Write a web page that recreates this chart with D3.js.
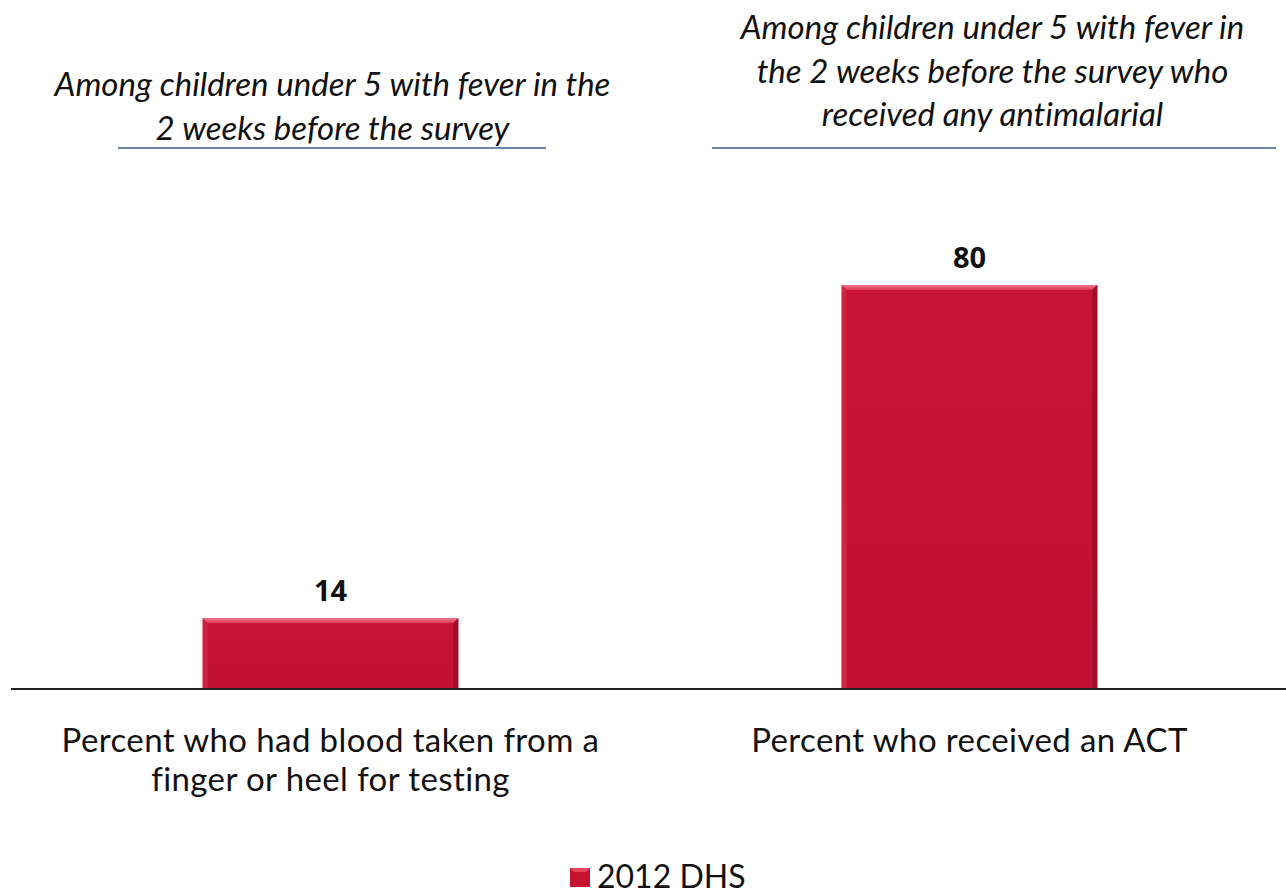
<!DOCTYPE html>
<html>
<head>
<meta charset="utf-8">
<script src="https://cdn.jsdelivr.net/npm/d3@7"></script>
<style>
  html, body { margin: 0; padding: 0; background: #ffffff; }
  svg { display: block; }
  text { font-variant-ligatures: none; }
</style>
</head>
<body>
<svg id="chart" width="1286" height="894"></svg>
<script>
// Indicator categories (two lines each on the axis)
const categories = [
  "Percent who had blood taken from a finger or heel for testing",
  "Percent who received an ACT"
];
const categoryLines = [
  ["Percent who had blood taken from a", "finger or heel for testing"],
  ["Percent who received an ACT"]
];
// 2012 DHS values (percent)
const values = [14, 80];
const seriesName = "2012 DHS";
// Group headings above each bar
const headings = [
  ["Among children under 5 with fever in the", "2 weeks before the survey"],
  ["Among children under 5 with fever in", "the 2 weeks before the survey who", "received any antimalarial"]
];

const svg = d3.select("#chart");
const baseY = 689;

const x = d3.scaleBand()
  .domain(categories)
  .range([11, 1289])
  .paddingInner(0.6)
  .paddingOuter(0.3);

const y = d3.scaleLinear()
  .domain([0, 100])
  .range([baseY, baseY - 505]);

const defs = svg.append("defs");
const grad = defs.append("linearGradient").attr("id", "barFill")
  .attr("x1", 0).attr("y1", 0).attr("x2", 0).attr("y2", 1);
grad.append("stop").attr("offset", "0%").attr("stop-color", "#c81334");
grad.append("stop").attr("offset", "100%").attr("stop-color", "#c21132");

const topGrad = defs.append("linearGradient").attr("id", "bevelTop")
  .attr("x1", 0).attr("y1", 0).attr("x2", 0).attr("y2", 1);
topGrad.append("stop").attr("offset", "0%").attr("stop-color", "#f07a8c");
topGrad.append("stop").attr("offset", "100%").attr("stop-color", "#de3350");

const data = categories.map((c, i) => ({ cat: c, v: values[i], lines: categoryLines[i] }));

const bars = svg.append("g").attr("class", "bars");
const bev = 5;
data.forEach(d => {
  const x0 = x(d.cat), w = x.bandwidth(), y0 = y(d.v), h = y(0) - y(d.v);
  const g = bars.append("g");
  g.append("rect").attr("x", x0).attr("y", y0).attr("width", w).attr("height", h)
    .attr("fill", "url(#barFill)");
  // bevelled edges
  g.append("polygon")
    .attr("points", [[x0, y0], [x0 + w, y0], [x0 + w - bev, y0 + bev], [x0 + bev, y0 + bev]].join(" "))
    .attr("fill", "url(#bevelTop)");
  g.append("polygon")
    .attr("points", [[x0, y0], [x0 + bev, y0 + bev], [x0 + bev, y0 + h], [x0, y0 + h]].join(" "))
    .attr("fill", "#cf2440");
  g.append("polygon")
    .attr("points", [[x0 + w, y0], [x0 + w, y0 + h], [x0 + w - bev, y0 + h], [x0 + w - bev, y0 + bev]].join(" "))
    .attr("fill", "#9e0e26");
  // value label
  svg.append("text")
    .attr("x", x0 + w / 2).attr("y", y0 - 17)
    .attr("text-anchor", "middle")
    .attr("font-family", "'Open Sans', sans-serif")
    .attr("font-weight", 700).attr("font-size", 29).attr("fill", "#111")
    .text(d.v);
});

// baseline axis
svg.append("g")
  .attr("transform", `translate(0,${baseY})`)
  .call(d3.axisBottom(x).tickSize(0).tickFormat(""))
  .call(g => g.select(".domain").attr("stroke", "#222").attr("stroke-width", 2)
    .attr("d", `M11,0H1286`));

// category labels
data.forEach(d => {
  const cx = x(d.cat) + x.bandwidth() / 2;
  const t = svg.append("text")
    .attr("text-anchor", "middle")
    .attr("font-family", "Lato, sans-serif")
    .attr("font-size", 33).attr("letter-spacing", 0.4).attr("fill", "#111");
  d.lines.forEach((ln, i) => {
    t.append("tspan").attr("x", cx).attr("y", 752 + i * 39).text(ln);
  });
});

// group headings with rules beneath
const headingRules = [[118, 546], [712, 1276]];
const headingTop = [96, 39];
headings.forEach((lines, i) => {
  const cx = x(categories[i]) + x.bandwidth() / 2 + (i === 0 ? 2 : 23);
  const t = svg.append("text")
    .attr("text-anchor", "middle")
    .attr("font-family", "Lato, sans-serif")
    .attr("font-style", "italic")
    .attr("font-size", 33).attr("fill", "#111");
  lines.forEach((ln, j) => {
    t.append("tspan").attr("x", cx).attr("y", headingTop[i] + j * 43.5).text(ln);
  });
  svg.append("line")
    .attr("x1", headingRules[i][0]).attr("x2", headingRules[i][1])
    .attr("y1", 148).attr("y2", 148)
    .attr("stroke", "#3b5e8c").attr("stroke-width", 1.5);
});

// legend
const lg = svg.append("g").attr("transform", "translate(570,868)");
lg.append("rect").attr("x", 0).attr("y", 0).attr("width", 20).attr("height", 19).attr("fill", "#c41230");
lg.append("polygon").attr("points", "0,0 20,0 16,4 4,4").attr("fill", "#e9465f");
lg.append("text").attr("x", 27).attr("y", 20)
  .attr("font-family", "Lato, sans-serif")
  .attr("font-size", 32).attr("fill", "#111")
  .text(seriesName);
</script>
</body>
</html>
